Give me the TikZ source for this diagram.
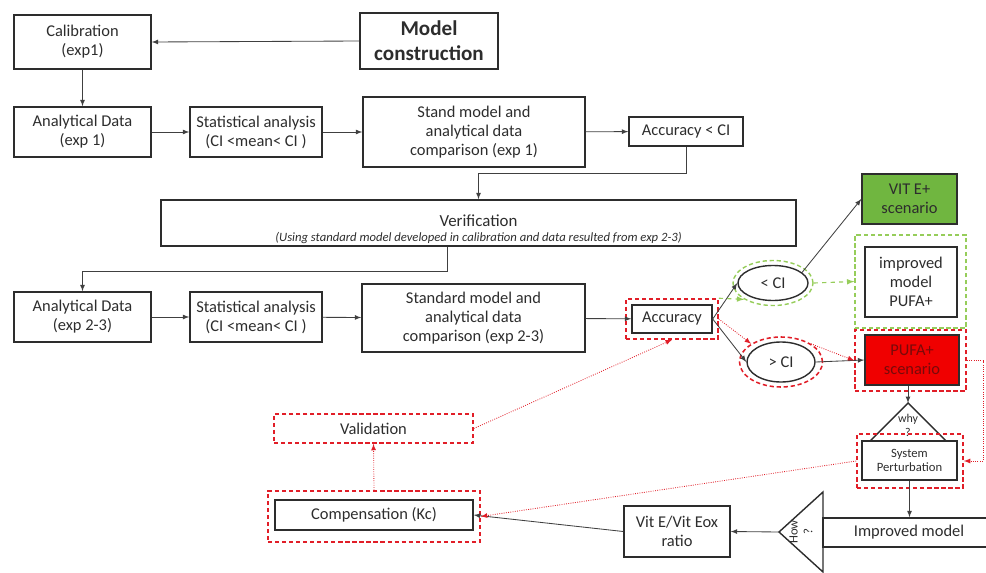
\documentclass[tikz,border=0pt]{standalone}
\usepackage{fontspec}
\setmainfont{Carlito}
\usetikzlibrary{shapes.geometric}

\definecolor{txtgray}{RGB}{45,45,45}
\definecolor{vitgreen}{RGB}{112,182,64}
\definecolor{pufared}{RGB}{240,0,0}
\definecolor{pufatxt}{RGB}{120,10,10}
\definecolor{dashgreen}{RGB}{150,205,90}
\definecolor{dashred}{RGB}{225,30,40}

\begin{document}
\begin{tikzpicture}[x=0.025cm, y=-0.025cm,
  font=\fontsize{11.7}{13.5}\selectfont, text=txtgray,
  box/.style={draw=txtgray, line width=1pt, align=center, inner sep=1pt},
  redbox/.style={draw=dashred, line width=1.1pt, dash pattern=on 3pt off 2pt, align=center},
  greenbox/.style={draw=dashgreen, line width=1pt, dash pattern=on 3pt off 2pt},
  oval/.style={ellipse, draw=txtgray, line width=1pt, inner sep=0pt},
  conn/.style={draw=black!75, line width=0.6pt, -latex},
  reddot/.style={draw=dashred, line width=0.6pt, densely dotted, -latex},
  greendash/.style={draw=dashgreen, line width=0.8pt, dashed, -latex}]
  \useasboundingbox (0,0) rectangle (986,572);
  \clip (0,0) rectangle (986,572);

  % calibration
  \node[box, minimum width=3.425cm, minimum height=1.35cm] (calib) at (82.5,42) {Calibration\\(exp1)};
  \node[box, minimum width=3.45cm, minimum height=1.4cm, font=\fontsize{15}{18}\selectfont\bfseries] (modelc) at (429,41) {Model\\construction};
  \node[box, minimum width=3.425cm, minimum height=1.25cm] (andata1) at (82.5,132) {Analytical Data\\(exp 1)};
  \node[box, minimum width=3.3cm, minimum height=1.25cm] (stat1) at (256,132) {Statistical analysis\\(CI <mean< CI )};
  \node[box, minimum width=5.55cm, minimum height=1.75cm] (comp1) at (474,132) {Stand model and\\analytical data\\comparison (exp 1)};
  \node[box, minimum width=2.85cm, minimum height=0.725cm] (acclt) at (686,131.5) {Accuracy < CI};

  \draw[conn] (modelc.west) -- (calib.east);
  \draw[conn] (calib) -- (andata1);
  \draw[conn] (andata1) -- (stat1);
  \draw[conn] (stat1) -- (comp1);
  \draw[conn] (comp1) -- (acclt);

  % verification
  \node[box, minimum width=15.875cm, minimum height=1.15cm] (verif) at (478.5,223) {};
  \node[align=center] (veriftxt) at (478.5,229) {{\fontsize{12}{14}\selectfont Verification}\\[-3pt]{\fontsize{9}{10}\selectfont\itshape (Using standard model developed in calibration and data resulted from exp 2-3)}};
  \coordinate (bend1) at (478.5,173);
  \draw[conn] (acclt.south) |- (bend1) -- (verif.north);

  \node[box, minimum width=3.425cm, minimum height=1.25cm] (andata2) at (82.5,317) {Analytical Data\\(exp 2-3)};
  \node[box, minimum width=3.3cm, minimum height=1.25cm] (stat2) at (256,317) {Statistical analysis\\(CI <mean< CI )};
  \node[box, minimum width=5.575cm, minimum height=1.7cm] (comp2) at (473.5,318) {Standard model and\\analytical data\\comparison (exp 2-3)};
  \node[box, minimum width=2cm, minimum height=0.7cm] (acc) at (672,319) {Accuracy};
  \node[redbox, minimum width=2.3cm, minimum height=1cm] (accb) at (672,319) {};

  \coordinate (bend2) at (447,271);
  \draw[conn] (verif.south -| bend2) -- (bend2) -| (andata2.north);
  \draw[conn] (andata2) -- (stat2);
  \draw[conn] (stat2) -- (comp2);
  \draw[conn] (comp2) -- (acc);

  % scenarios
  \node[oval, minimum width=1.75cm, minimum height=0.875cm] (ltci) at (773,283) {< CI};
  \node[ellipse, greenbox, minimum width=2cm, minimum height=1.125cm] (ltcib) at (773,283) {};
  \node[oval, minimum width=1.7cm, minimum height=1cm] (gtci) at (781,362) {> CI};
  \node[ellipse, redbox, minimum width=2.075cm, minimum height=1.25cm] (gtcib) at (781,362) {};

  \node[box, fill=vitgreen, minimum width=2.375cm, minimum height=1.25cm] (vite) at (909.5,199) {VIT E+\\scenario};
  \node[box, minimum width=2.3cm, minimum height=1.75cm] (impm) at (911,282) {improved\\model\\PUFA+};
  \node[greenbox, minimum width=2.775cm, minimum height=2.325cm] (impmb) at (910.5,281.5) {};
  \node[box, fill=pufared, text=pufatxt, minimum width=2.35cm, minimum height=1.25cm] (pufa) at (912,360) {PUFA+\\scenario};
  \node[redbox, minimum width=2.775cm, minimum height=1.525cm] (pufab) at (910.5,360.5) {};

  \draw[conn] (acc.east) -- (ltci.west);
  \draw[conn] (acc.east) -- (gtci.west);
  \draw[conn] (ltci.20) -- (vite.west);
  \draw[conn] (gtci.east) -- (pufa.west);
  \draw[greendash] (ltcib.east) -- (impmb.west);
  \draw[greendash] (accb.north east) -- (ltcib.south west);
  \draw[reddot] (accb.east) -- (gtcib.north west);
  \draw[reddot] (gtcib.north east) -- (pufab.west);

  % why ?
  \coordinate (whytop) at (908,403);
  \coordinate (whyl) at (870,441);
  \coordinate (whyr) at (946,441);
  \draw[draw=txtgray, line width=1pt] (whyl) -- (whytop) -- (whyr);
  \node[font=\fontsize{8.5}{10}\selectfont, align=center] (whytxt) at (908,425) {why\\?};
  \draw[conn] (pufa.south -| whytop) -- (whytop);

  \node[box, font=\fontsize{9}{10.5}\selectfont, minimum width=2.375cm, minimum height=0.975cm] (sysp) at (909.5,460.5) {System\\Perturbation};
  \node[redbox, minimum width=2.65cm, minimum height=1.35cm] (syspb) at (910,461) {};
  \coordinate (bend3) at (983,360.5);
  \draw[reddot] (pufab.east) -- (bend3) |- (syspb.east);

  % how ?
  \coordinate (howtip) at (779,532);
  \coordinate (howa) at (823,492);
  \coordinate (howb) at (823,572);
  \draw[draw=txtgray, line width=1pt] (howa) -- (howtip) -- (howb) -- cycle;
  \node[rotate=90, font=\fontsize{9}{10.5}\selectfont, align=center] (howtxt) at (801,532) {How\\?};
  \node[box, minimum width=4.3cm, minimum height=0.725cm] (impmod) at (909,532.5) {Improved model};
  \draw[conn] (sysp.south) -- (sysp.south |- impmod.north);

  % compensation and validation
  \node[box, minimum width=2.65cm, minimum height=1.275cm] (vitr) at (677,531.5) {Vit E/Vit Eox\\ratio};
  \node[box, minimum width=4.95cm, minimum height=0.75cm] (comp) at (374,515) {Compensation (Kc)};
  \node[redbox, minimum width=5.3cm, minimum height=1.275cm] (compb) at (374,516.5) {};
  \node[redbox, minimum width=4.975cm, minimum height=0.725cm] (valid) at (373.5,428.5) {Validation};

  \draw[conn] (howtip) -- (vitr.east);
  \draw[conn] (vitr.west) -- (comp.east);
  \draw[reddot] (syspb.west) -- (compb.east);
  \draw[reddot] (compb.north) -- (valid.south);
  \draw[reddot] (valid.east) -- (accb.south);
\end{tikzpicture}
\end{document}
